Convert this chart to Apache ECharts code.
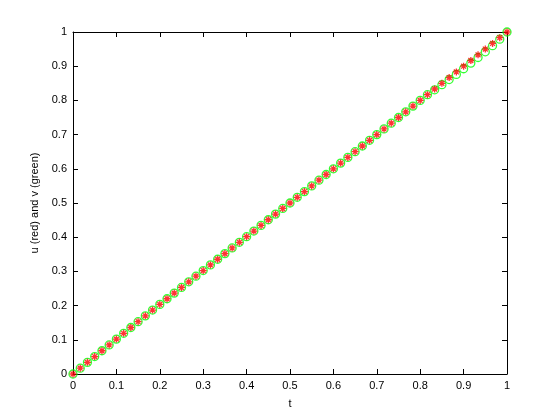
<!DOCTYPE html>
<html>
<head>
<meta charset="utf-8">
<script src="https://cdn.jsdelivr.net/npm/echarts@6/dist/echarts.min.js"></script>
<style>
  html, body { margin: 0; padding: 0; background: #fff; }
  #chart { width: 560px; height: 420px; }
</style>
</head>
<body>
<div id="chart"></div>
<script>
// time points
var tVals = [0, 0.0167, 0.0333, 0.05, 0.0667, 0.0833, 0.1, 0.1167, 0.1333, 0.15,
  0.1667, 0.1833, 0.2, 0.2167, 0.2333, 0.25, 0.2667, 0.2833, 0.3, 0.3167,
  0.3333, 0.35, 0.3667, 0.3833, 0.4, 0.4167, 0.4333, 0.45, 0.4667, 0.4833,
  0.5, 0.5167, 0.5333, 0.55, 0.5667, 0.5833, 0.6, 0.6167, 0.6333, 0.65,
  0.6667, 0.6833, 0.7, 0.7167, 0.7333, 0.75, 0.7667, 0.7833, 0.8, 0.8167,
  0.8333, 0.85, 0.8667, 0.8833, 0.9, 0.9167, 0.9333, 0.95, 0.9667, 0.9833, 1];
// u (red)
var uVals = [0, 0.0170, 0.0340, 0.0510, 0.0680, 0.0850, 0.1020, 0.1190, 0.1360, 0.1530,
  0.1700, 0.1870, 0.2035, 0.2200, 0.2365, 0.2530, 0.2695, 0.2860, 0.3025, 0.3190,
  0.3355, 0.3520, 0.3685, 0.3850, 0.4015, 0.4180, 0.4345, 0.4510, 0.4675, 0.4840,
  0.5000, 0.5167, 0.5333, 0.5500, 0.5667, 0.5833, 0.6000, 0.6167, 0.6333, 0.6500,
  0.6667, 0.6833, 0.7000, 0.7167, 0.7333, 0.7500, 0.7667, 0.7833, 0.8000, 0.8167,
  0.8333, 0.8500, 0.8667, 0.8833, 0.9000, 0.9167, 0.9333, 0.9500, 0.9667, 0.9833, 1];
// v (green)
var vVals = [0, 0.0170, 0.0340, 0.0510, 0.0680, 0.0850, 0.1020, 0.1190, 0.1360, 0.1530,
  0.1700, 0.1870, 0.2035, 0.2200, 0.2365, 0.2530, 0.2695, 0.2860, 0.3025, 0.3190,
  0.3355, 0.3520, 0.3685, 0.3850, 0.4015, 0.4180, 0.4345, 0.4510, 0.4675, 0.4840,
  0.5000, 0.5167, 0.5333, 0.5500, 0.5667, 0.5833, 0.6000, 0.6167, 0.6333, 0.6500,
  0.6667, 0.6833, 0.7000, 0.7167, 0.7333, 0.7500, 0.7667, 0.7833, 0.8000, 0.8167,
  0.8310, 0.8460, 0.8610, 0.8760, 0.8925, 0.9090, 0.9255, 0.9420, 0.9600, 0.9790, 1];
var xTicks = [0, 0.1, 0.2, 0.3, 0.4, 0.5, 0.6, 0.7, 0.8, 0.9, 1];
var yTicks = [0, 0.1, 0.2, 0.3, 0.4, 0.5, 0.6, 0.7, 0.8, 0.9, 1];

var uData = tVals.map(function (t, i) { return [t, uVals[i]]; });
var vData = tVals.map(function (t, i) { return [t, vVals[i]]; });

var fontFam = "Liberation Sans, Arial, sans-serif";
var star = "path://M0,5L10,5M5,0L5,10M1.5,1.5L8.5,8.5M1.5,8.5L8.5,1.5";

function axisCommon(ticks, pos, showLabel) {
  return {
    type: "value",
    position: pos,
    min: ticks[0],
    max: ticks[ticks.length - 1],
    interval: 0.1,
    axisLine: { show: true, onZero: false, lineStyle: { color: "#000", width: 1 } },
    axisTick: { show: true, inside: true, length: 5, lineStyle: { color: "#000" } },
    splitLine: { show: false },
    axisLabel: {
      show: showLabel,
      color: "#000",
      fontSize: 11,
      fontFamily: fontFam,
      margin: 6,
      formatter: function (v) { return String(Math.round(v * 10) / 10); }
    }
  };
}

var chart = echarts.init(document.getElementById("chart"));
var xBottom = axisCommon(xTicks, "bottom", true);
xBottom.name = "t";
xBottom.nameLocation = "middle";
xBottom.nameGap = 24;
xBottom.nameTextStyle = { color: "#000", fontSize: 11, fontFamily: fontFam };
var yLeft = axisCommon(yTicks, "left", true);
yLeft.name = "u (red) and v (green)";
yLeft.nameLocation = "middle";
yLeft.nameGap = 30;
yLeft.nameTextStyle = { color: "#000", fontSize: 11, fontFamily: fontFam };

chart.setOption({
  backgroundColor: "#fff",
  animation: false,
  grid: { left: 73, right: 53, top: 32, bottom: 46 },
  xAxis: [xBottom, axisCommon(xTicks, "top", false)],
  yAxis: [yLeft, axisCommon(yTicks, "right", false)],
  series: [
    {
      name: "v",
      type: "scatter",
      data: vData,
      symbol: "circle",
      symbolSize: 8,
      itemStyle: { color: "none", borderColor: "#00ff00", borderWidth: 1.3 }
    },
    {
      name: "u",
      type: "scatter",
      data: uData,
      symbol: star,
      symbolSize: 7,
      itemStyle: { color: "none", borderColor: "#ff0000", borderWidth: 1.3 }
    }
  ]
});
</script>
</body>
</html>
